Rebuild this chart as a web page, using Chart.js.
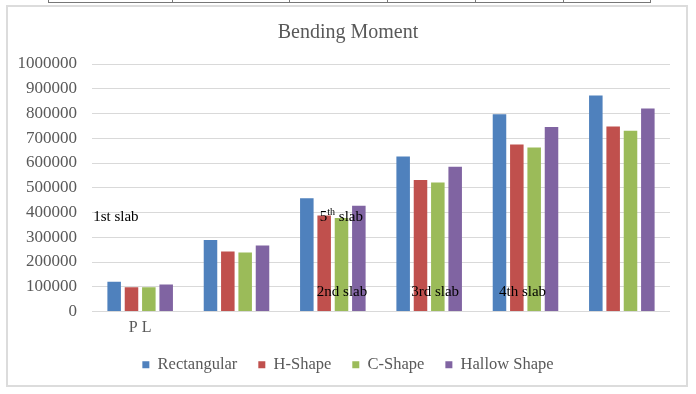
<!DOCTYPE html>
<html>
<head>
<meta charset="utf-8">
<script src="https://cdn.jsdelivr.net/npm/chart.js@4/dist/chart.umd.min.js"></script>
<style>
  html, body { margin: 0; padding: 0; background: #fff; }
  #wrap { position: relative; width: 696px; height: 394px; overflow: hidden; }
  #frame { position: absolute; left: 6px; top: 5px; width: 678px; height: 378px; border: 2px solid #dcdcdc; }
  #tableLine { position: absolute; left: 48px; top: 2px; width: 602px; height: 0; border-top: 1px solid #777; }
  .tcol { position: absolute; top: 0; width: 0; height: 3px; border-left: 1px solid #777; }
  #chartCanvas { position: absolute; left: 0; top: 0; }
</style>
</head>
<body>
<div id="wrap">
  <div id="tableLine"></div>
  <div id="frame"></div>
  <canvas id="chartCanvas" width="696" height="394"></canvas>
</div>
<script>
// chart data
const categories = ["P L", "", "", "", "", ""];
const rectangular = [120000, 289000, 458000, 626000, 797000, 873000];
const hShape = [98000, 242000, 388000, 531000, 675000, 747000];
const cShape = [98000, 238000, 378000, 521000, 663000, 730000];
const hallowShape = [109000, 267000, 427000, 585000, 745000, 820000];
const yTicks = [0, 100000, 200000, 300000, 400000, 500000, 600000, 700000, 800000, 900000, 1000000];

// the loose text boxes sitting on top of the plot
const notes = [
  { text: "1st slab", cat: 0, dx: -47, at: 380000 },
  { text: "5", sup: "th", rest: " slab", cat: 2, dx: -13, at: 380000 },
  { text: "2nd slab", cat: 2, dx: -16, at: 80000 },
  { text: "3rd slab", cat: 3, dx: -18, at: 80000 },
  { text: "4th slab", cat: 4, dx: -26.5, at: 80000 }
];

// bits of the table that is cut off above the chart
[48, 172, 289, 387, 475, 563, 650].forEach(x => {
  const d = document.createElement("div");
  d.className = "tcol";
  d.style.left = x + "px";
  document.getElementById("wrap").appendChild(d);
});

const serif = "'Liberation Serif', 'Times New Roman', serif";

const notesPlugin = {
  id: "notes",
  afterDatasetsDraw(chart) {
    const ctx = chart.ctx;
    const xs = chart.scales.x, ys = chart.scales.y;
    ctx.save();
    ctx.fillStyle = "#000";
    ctx.textBaseline = "middle";
    ctx.textAlign = "left";
    notes.forEach(n => {
      let x = xs.getPixelForValue(n.cat) + n.dx;
      const y = ys.getPixelForValue(n.at);
      ctx.font = "15px " + serif;
      ctx.fillText(n.text, x, y);
      if (n.sup) {
        x += ctx.measureText(n.text).width;
        ctx.font = "10px " + serif;
        ctx.fillText(n.sup, x, y - 5);
        x += ctx.measureText(n.sup).width;
        ctx.font = "15px " + serif;
        ctx.fillText(n.rest, x, y);
      }
    });
    ctx.restore();
  }
};

const ctx = document.getElementById("chartCanvas").getContext("2d");
new Chart(ctx, {
  type: "bar",
  data: {
    labels: categories,
    datasets: [
      { label: "Rectangular", data: rectangular, backgroundColor: "#4F81BD" },
      { label: "H-Shape", data: hShape, backgroundColor: "#C0504D" },
      { label: "C-Shape", data: cShape, backgroundColor: "#9BBB59" },
      { label: "Hallow Shape", data: hallowShape, backgroundColor: "#8064A2" }
    ]
  },
  options: {
    responsive: false,
    animation: false,
    categoryPercentage: 0.72,
    barPercentage: 0.78,
    layout: { padding: { top: 0, left: 0, right: 0, bottom: 11 } },
    plugins: {
      title: {
        display: true,
        text: "Bending Moment",
        color: "#595959",
        font: { family: serif, size: 20, weight: "normal" },
        padding: { top: 21, bottom: 19 }
      },
      legend: {
        position: "bottom",
        labels: {
          color: "#595959",
          font: { family: serif, size: 16.5 },
          boxWidth: 7,
          boxHeight: 7,
          padding: 21
        }
      },
      tooltip: { enabled: false }
    },
    scales: {
      x: {
        grid: { display: false, drawTicks: false, tickLength: 0 },
        border: { display: false },
        ticks: {
          color: "#595959",
          font: { family: serif, size: 16 },
          padding: 7,
          maxRotation: 0,
          autoSkip: false
        },
        afterFit: s => { s.height = 24; }
      },
      y: {
        min: 0,
        max: 1000000,
        grid: { color: "#d9d9d9", drawTicks: false },
        border: { display: false },
        afterBuildTicks: s => { s.ticks = yTicks.map(v => ({ value: v })); },
        ticks: {
          color: "#595959",
          font: { family: serif, size: 17 },
          padding: 15,
          callback: v => String(v)
        },
        afterFit: s => { s.width = 92; }
      },
      // empty strip that keeps the plot off the right edge
      pad: {
        position: "right",
        display: true,
        grid: { display: false },
        border: { display: false },
        ticks: { display: false },
        afterFit: s => { s.width = 26; }
      }
    }
  },
  plugins: [notesPlugin]
});
</script>
</body>
</html>
